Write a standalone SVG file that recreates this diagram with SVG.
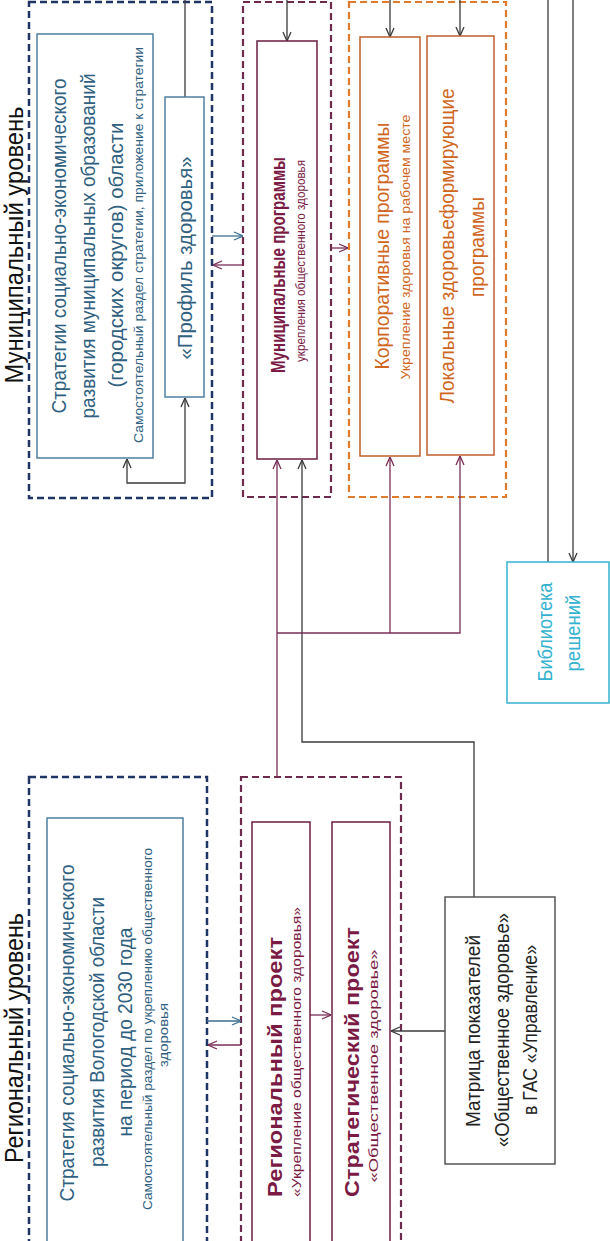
<svg xmlns="http://www.w3.org/2000/svg" width="610" height="1241" viewBox="0 0 610 1241">
<style>
text{font-family:"Liberation Sans",Arial,sans-serif;text-anchor:middle;dominant-baseline:central}
.t17{font-size:20px}
.t11{font-size:13.5px}
.title{font-size:26px;fill:#111}
.blue{fill:#2f6080}
.mar{fill:#7a1a45}
.org{fill:#d0661e}
.cyan{fill:#35b2cf}
.dark{fill:#222}
.b{font-weight:bold}
.dnavy{fill:none;stroke:#1f3566;stroke-width:2.5;stroke-dasharray:7 4}
.dmar{fill:none;stroke:#6e2a4c;stroke-width:2.2;stroke-dasharray:7 4}
.dorg{fill:none;stroke:#e07a2c;stroke-width:2.2;stroke-dasharray:7 4}
.bblue{fill:#fff;stroke:#4f7fa0;stroke-width:1.5}
.bmar{fill:#fff;stroke:#6b1e40;stroke-width:1.5}
.borg{fill:#fff;stroke:#bf5f2c;stroke-width:1.5}
.bcyan{fill:#fff;stroke:#35b2cf;stroke-width:1.5}
.bgray{fill:#fff;stroke:#555;stroke-width:1.5}
.cg{fill:none;stroke:#3a3a3a;stroke-width:1.3}
.cm{fill:none;stroke:#7a2e57;stroke-width:1.3}
.cb{fill:none;stroke:#3e6d8e;stroke-width:1.3}
</style>
<defs>
<marker id="ag" viewBox="0 0 10 10" refX="10" refY="5" markerWidth="10" markerHeight="10" markerUnits="userSpaceOnUse" orient="auto-start-reverse"><path d="M1,1 L10,5 L1,9" fill="none" stroke="#3a3a3a" stroke-width="1.3"/></marker>
<marker id="am" viewBox="0 0 10 10" refX="10" refY="5" markerWidth="10" markerHeight="10" markerUnits="userSpaceOnUse" orient="auto-start-reverse"><path d="M1,1 L10,5 L1,9" fill="none" stroke="#7a2e57" stroke-width="1.3"/></marker>
<marker id="ab" viewBox="0 0 10 10" refX="10" refY="5" markerWidth="10" markerHeight="10" markerUnits="userSpaceOnUse" orient="auto-start-reverse"><path d="M1,1 L10,5 L1,9" fill="none" stroke="#3e6d8e" stroke-width="1.3"/></marker>
</defs>
<rect width="610" height="1241" fill="#fff"/>

<g id="titles">
<text class="title" transform="translate(14,245) rotate(-90)" textLength="277" lengthAdjust="spacingAndGlyphs">Муниципальный уровень</text>
<text class="title" transform="translate(14,1038) rotate(-90)" textLength="250" lengthAdjust="spacingAndGlyphs">Региональный уровень</text>
</g>

<g id="groups">
<rect id="muni-level" class="dnavy" x="29" y="2" width="183" height="496"/>
<rect id="muni-programs-group" class="dmar" x="243" y="2" width="88" height="495"/>
<rect id="local-programs-group" class="dorg" x="349" y="2" width="157" height="495"/>
<rect id="region-level" class="dnavy" x="29" y="777" width="178" height="480"/>
<rect id="region-projects-group" class="dmar" x="241" y="777" width="160" height="480"/>
</g>

<g id="connectors">
<path class="cg" d="M185,0 V97"/>
<path class="cg" d="M127,459 V483 H185 V398" marker-start="url(#ag)" marker-end="url(#ag)"/>
<path class="cg" d="M287,0 V41" marker-end="url(#ag)"/>
<path class="cg" d="M390,0 V37" marker-end="url(#ag)"/>
<path class="cg" d="M460,0 V36" marker-end="url(#ag)"/>
<path class="cg" d="M548,0 V562"/>
<path class="cg" d="M573,0 V562" marker-end="url(#ag)"/>
<path class="cg" d="M474,897 V742 H302 V460" marker-end="url(#ag)"/>
<path class="cg" d="M445,1031 H391" marker-end="url(#ag)"/>
<path class="cm" d="M277,777 V460" marker-end="url(#am)"/>
<path class="cm" d="M277,633 H460 V456" marker-end="url(#am)"/>
<path class="cm" d="M390,633 V457" marker-end="url(#am)"/>
<path class="cm" d="M243,265 H213" marker-end="url(#am)"/>
<path class="cm" d="M241,1045 H208" marker-end="url(#am)"/>
<path class="cm" d="M331,248 H348" marker-end="url(#am)"/>
<path class="cm" d="M310,1015 H331" marker-end="url(#am)"/>
<path class="cb" d="M212,236 H243" marker-end="url(#ab)"/>
<path class="cb" d="M207,1021 H241" marker-end="url(#ab)"/>
</g>

<g id="muni-strategy">
<rect class="bblue" x="37" y="34" width="116" height="424"/>
<text class="t17 blue" transform="translate(59,246) rotate(-90)" textLength="335" lengthAdjust="spacingAndGlyphs">Стратегии социально-экономического</text>
<text class="t17 blue" transform="translate(88,246) rotate(-90)" textLength="345" lengthAdjust="spacingAndGlyphs">развития муниципальных образований</text>
<text class="t17 blue" transform="translate(116,255) rotate(-90)" textLength="265" lengthAdjust="spacingAndGlyphs">(городских округов) области</text>
<text class="t11 blue" transform="translate(138,245) rotate(-90)" textLength="396" lengthAdjust="spacingAndGlyphs">Самостоятельный раздел стратегии, приложение к стратегии</text>
</g>

<g id="health-profile">
<rect class="bblue" x="165" y="97" width="39" height="300"/>
<text class="t17 blue" transform="translate(185,258) rotate(-90)" textLength="203" lengthAdjust="spacingAndGlyphs">«Профиль здоровья»</text>
</g>

<g id="muni-programs">
<rect class="bmar" x="257" y="41" width="60" height="418"/>
<text class="t17 mar b" transform="translate(278,265) rotate(-90)" textLength="216" lengthAdjust="spacingAndGlyphs">Муниципальные программы</text>
<text class="t11 mar" transform="translate(300,261) rotate(-90)" textLength="202" lengthAdjust="spacingAndGlyphs">укрепления общественного здоровья</text>
</g>

<g id="corporate-programs">
<rect class="borg" x="360" y="37" width="60" height="419"/>
<text class="t17 org" transform="translate(382,246) rotate(-90)" textLength="247" lengthAdjust="spacingAndGlyphs">Корпоративные программы</text>
<text class="t11 org" transform="translate(405,247) rotate(-90)" textLength="265" lengthAdjust="spacingAndGlyphs">Укрепление здоровья на рабочем месте</text>
</g>

<g id="local-programs">
<rect class="borg" x="427" y="36" width="67" height="419"/>
<text class="t17 org" transform="translate(447,246) rotate(-90)" textLength="315" lengthAdjust="spacingAndGlyphs">Локальные здоровьеформирующие</text>
<text class="t17 org" transform="translate(477,247) rotate(-90)" textLength="100" lengthAdjust="spacingAndGlyphs">программы</text>
</g>

<g id="solutions-library">
<rect class="bcyan" x="507" y="562" width="102" height="141"/>
<text class="t17 cyan" transform="translate(545,632) rotate(-90)" textLength="99" lengthAdjust="spacingAndGlyphs">Библиотека</text>
<text class="t17 cyan" transform="translate(573,633) rotate(-90)" textLength="77" lengthAdjust="spacingAndGlyphs">решений</text>
</g>

<g id="region-strategy">
<rect class="bblue" x="47" y="818" width="136" height="440"/>
<text class="t17 blue" transform="translate(67,1033) rotate(-90)" textLength="337" lengthAdjust="spacingAndGlyphs">Стратегия социально-экономического</text>
<text class="t17 blue" transform="translate(97,1032) rotate(-90)" textLength="270" lengthAdjust="spacingAndGlyphs">развития Вологодской области</text>
<text class="t17 blue" transform="translate(125,1032) rotate(-90)" textLength="209" lengthAdjust="spacingAndGlyphs">на период до 2030 года</text>
<text class="t11 blue" transform="translate(147,1029) rotate(-90)" textLength="362" lengthAdjust="spacingAndGlyphs">Самостоятельный раздел по укреплению общественного</text>
<text class="t11 blue" transform="translate(163,1035) rotate(-90)" textLength="64" lengthAdjust="spacingAndGlyphs">здоровья</text>
</g>

<g id="regional-project">
<rect class="bmar" x="252" y="822" width="58" height="440"/>
<text class="t17 mar b" transform="translate(275,1067) rotate(-90)" textLength="260" lengthAdjust="spacingAndGlyphs">Региональный проект</text>
<text class="t11 mar" transform="translate(296,1052) rotate(-90)" textLength="290" lengthAdjust="spacingAndGlyphs">«Укрепление общественного здоровья»</text>
</g>

<g id="strategic-project">
<rect class="bmar" x="332" y="822" width="58" height="440"/>
<text class="t17 mar b" transform="translate(352,1062) rotate(-90)" textLength="270" lengthAdjust="spacingAndGlyphs">Стратегический проект</text>
<text class="t11 mar" transform="translate(373,1066) rotate(-90)" textLength="233" lengthAdjust="spacingAndGlyphs">«Общественное здоровье»</text>
</g>

<g id="indicator-matrix">
<rect class="bgray" x="445" y="897" width="110" height="267"/>
<text class="t17 dark" transform="translate(473,1031) rotate(-90)" textLength="192" lengthAdjust="spacingAndGlyphs">Матрица показателей</text>
<text class="t17 dark" transform="translate(502,1030) rotate(-90)" textLength="234" lengthAdjust="spacingAndGlyphs">«Общественное здоровье»</text>
<text class="t17 dark" transform="translate(530,1030) rotate(-90)" textLength="170" lengthAdjust="spacingAndGlyphs">в ГАС «Управление»</text>
</g>
</svg>
